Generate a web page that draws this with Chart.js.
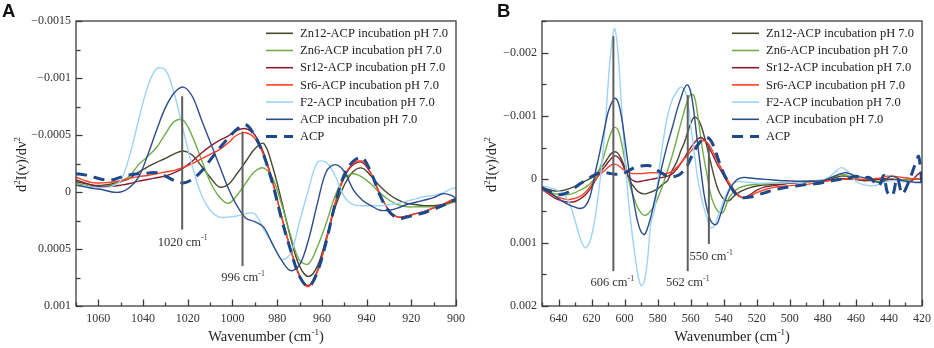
<!DOCTYPE html>
<html>
<head>
<meta charset="utf-8">
<title>Second derivative FTIR spectra</title>
<script src="https://cdn.jsdelivr.net/npm/chart.js"></script>
<style>
    body { margin: 0; background: #fff; }
    .panel { position: absolute; top: 0; }
    #panelA { left: 0; }
    #panelB { left: 466px; }
</style>
</head>
<body>
<canvas id="panelA" class="panel" width="467" height="348"></canvas>
<canvas id="panelB" class="panel" width="468" height="348"></canvas>

<script>
// values: d2I/dv2 in units of 1e-4 (negative is plotted up)
var seriesNames = ['Zn12-ACP incubation pH 7.0', 'Zn6-ACP incubation pH 7.0', 'Sr12-ACP incubation pH 7.0',
    'Sr6-ACP incubation pH 7.0', 'F2-ACP incubation pH 7.0', 'ACP incubation pH 7.0', 'ACP'];
var seriesColors = ['#48472e', '#6fad49', '#8b1d31', '#ff4124', '#9dd3f6', '#2c4c8a', '#1d4889'];

// ---- panel A, 1070-900 cm-1 ----
var wnA = [1070, 1066, 1062, 1058, 1054, 1050, 1046, 1042, 1038, 1034, 1030, 1026, 1022, 1018, 1014, 1010,
    1006, 1002, 998, 994, 990, 986, 982, 978, 974, 970, 966, 962, 958, 954, 950, 946, 942, 938, 934, 930,
    926, 922, 918, 914, 910, 906, 902, 900];
var zn12A = [-0.9, -0.75, -0.6, -0.6, -0.7, -0.9, -1.2, -1.75, -2.2, -2.6, -2.95, -3.35, -3.6, -3.25, -2.3, -1.3,
    -0.45, -0.65, -1.6, -2.7, -3.8, -4.25, -2.2, 0.8, 4.0, 6.5, 7.4, 6.5, 4.0, 1.3, -0.6, -1.8, -2.1, -1.4, -0.5, 0.2,
    0.7, 1.0, 1.1, 1.2, 1.2, 1.1, 0.9, 0.85];
var zn6A = [-0.75, -0.6, -0.45, -0.5, -0.6, -0.9, -1.4, -2.4, -3.1, -3.9, -5.1, -6.2, -6.3, -4.9, -2.9, -0.9,
    0.4, 1.0, 0.3, -0.8, -1.8, -2.1, -1.2, 1.1, 3.8, 6.0, 6.3, 4.8, 2.7, 0.3, -1.2, -1.6, -1.3, -0.7, 0.1, 0.7,
    1.1, 1.3, 1.3, 1.3, 1.3, 1.2, 0.95, 0.85];
var sr12A = [-1.05, -0.8, -0.55, -0.5, -0.5, -0.6, -0.75, -0.95, -1.1, -1.25, -1.4, -1.7, -2.1, -2.7, -3.4, -4.0,
    -4.5, -4.9, -5.4, -5.55, -5.0, -3.4, -0.9, 2.2, 5.0, 7.3, 8.2, 6.9, 4.2, 1.0, -1.3, -2.4, -2.6, -1.6, 0.2, 1.6,
    2.2, 2.1, 1.9, 1.7, 1.4, 1.1, 0.8, 0.6];
var sr6A = [-1.3, -1.0, -0.8, -0.8, -0.85, -1.0, -1.2, -1.35, -1.45, -1.6, -1.75, -1.9, -2.15, -2.5, -2.9, -3.3,
    -3.7, -4.3, -5.0, -5.2, -4.7, -3.2, -0.8, 2.2, 5.0, 7.4, 8.3, 7.0, 4.2, 0.9, -1.4, -2.5, -2.7, -1.6, 0.2, 1.6,
    2.2, 2.1, 1.9, 1.7, 1.4, 1.1, 0.7, 0.6];
var f2A = [-0.6, -0.5, -0.4, -0.4, -0.5, -1.0, -3.2, -6.3, -9.2, -10.8, -10.7, -8.6, -5.4, -2.3, 0.2, 1.6,
    2.2, 2.2, 2.1, 1.9, 1.9, 3.3, 4.6, 5.9, 5.4, 2.6, -0.2, -2.6, -2.6, -1.4, 0.4, 1.1, 1.2, 1.2, 1.2, 1.1,
    1.0, 0.8, 0.6, 0.4, 0.3, 0.1, -0.3, -0.35];
var acpIncA = [-0.6, -0.45, -0.3, -0.2, 0.0, 0.0, -0.4, -1.3, -3.2, -5.4, -7.4, -8.7, -9.2, -8.4, -6.4, -4.4,
    -2.4, -0.4, 1.2, 2.3, 2.6, 3.1, 4.6, 6.0, 6.9, 6.4, 4.2, 1.0, -1.8, -2.4, -1.8, -0.2, 0.7, 1.2, 1.6, 1.6,
    1.4, 1.1, 0.9, 0.7, 0.5, 0.15, 0.3, 0.6];
var acpA = [-1.6, -1.5, -1.3, -1.1, -1.05, -1.3, -1.5, -1.6, -1.65, -1.7, -1.4, -1.0, -0.8, -1.1, -1.8, -2.8,
    -3.8, -4.7, -5.5, -5.9, -4.9, -3.2, -0.7, 2.4, 5.1, 7.4, 8.3, 7.0, 4.3, 1.0, -1.5, -2.7, -3.0, -1.7, 0.3, 1.7,
    2.3, 2.2, 2.0, 1.8, 1.5, 1.2, 0.8, 0.7];
// vertical marks: position, top and bottom value, label centre
var marksA = [
    { x: 1022.5, top: -8.4, bottom: 3.3, labelX: 1022.3, labelY: 4.3, text: '1020 cm' },
    { x: 995.5, top: -5.3, bottom: 6.5, labelX: 995.3, labelY: 7.4, text: '996 cm' }
];

// ---- panel B, 650-420 cm-1 ----
var wnB = [650, 646, 642, 638, 634, 630, 627, 624, 621, 618, 615, 612, 610, 608, 606, 604, 602, 600, 598, 596,
    594, 592, 590, 588, 586, 584, 582, 580, 577, 574, 571, 568, 566, 564, 562, 560, 558, 556, 554, 552,
    550, 548, 546, 544, 542, 540, 537, 534, 531, 528, 524, 520, 515, 510, 505, 500, 495, 490, 485, 480,
    476, 472, 469, 466, 463, 460, 456, 452, 449, 446, 443, 441, 438, 435, 432, 429, 426, 424, 422, 420];
var zn12B = [1.3, 1.6, 1.85, 1.8, 1.5, 1.1, 0.7, 0.3, -0.1, -0.7, -1.5, -2.6, -3.4, -4.1, -4.35, -4.1, -3.2, -2.0, -0.5, 0.6,
    1.3, 1.9, 2.2, 2.3, 2.2, 2.0, 1.8, 1.5, 0.8, 0.2, -1.5, -3.0, -4.5, -5.7, -7.3, -8.8, -9.8, -9.6, -8.7, -7.0,
    -5.0, -2.8, -0.6, 1.2, 2.4, 3.1, 3.4, 2.7, 2.1, 1.7, 1.3, 1.05, 0.9, 0.8, 0.7, 0.6, 0.5, 0.4, 0.3, 0.2,
    0.0, -0.3, -0.5, -0.5, -0.3, 0.0, 0.2, 0.2, 0.1, 0.0, -0.1, -0.1, 0.0, 0.1, 0.1, 0.0, 0.0, 0.0, 0.0, 0.0];
var zn6B = [1.6, 2.0, 2.3, 2.4, 2.4, 2.1, 1.7, 1.3, 0.7, -0.2, -1.8, -4.2, -6.0, -7.5, -8.2, -7.8, -5.9, -3.2, -0.5, 1.6,
    3.2, 4.5, 5.3, 5.7, 5.5, 4.9, 4.2, 3.0, 1.0, -1.4, -3.9, -6.8, -8.8, -10.7, -12.4, -13.4, -13.2, -10.6, -6.8, -3.4,
    -0.5, 2.3, 3.9, 4.9, 5.3, 5.1, 3.0, 2.0, 1.4, 1.1, 0.9, 0.8, 0.7, 0.6, 0.5, 0.5, 0.4, 0.3, 0.2, 0.1,
    -0.2, -0.6, -0.8, -0.7, -0.4, -0.1, 0.0, 0.1, 0.2, 0.3, 0.2, 0.0, -0.1, 0.0, 0.1, 0.1, 0.0, -0.1, -0.1, -0.1];
var sr12B = [1.6, 2.3, 3.0, 3.4, 3.6, 3.5, 3.1, 2.5, 1.6, 0.3, -1.0, -2.0, -2.7, -3.3, -3.7, -3.5, -2.8, -1.6, -0.6, 0.0,
    0.3, 0.4, 0.3, 0.2, 0.1, 0.0, -0.1, -0.2, -0.3, -0.5, -0.9, -1.8, -2.5, -3.3, -4.2, -5.0, -5.7, -6.3, -6.6, -6.3,
    -5.6, -4.6, -3.5, -2.4, -1.5, -0.6, 0.8, 1.9, 2.6, 2.9, 2.4, 1.7, 1.2, 1.0, 0.8, 0.6, 0.5, 0.4, 0.3, 0.2,
    0.1, 0.0, -0.1, -0.1, 0.0, 0.0, 0.1, 0.1, 0.0, 0.0, 0.1, 0.1, 0.0, 0.1, 0.2, 0.4, 0.2, -0.4, -0.9, -1.2];
var sr6B = [1.6, 2.2, 2.65, 3.0, 3.2, 3.0, 2.7, 2.1, 1.2, 0.1, -0.8, -1.4, -1.9, -2.3, -2.4, -2.2, -1.8, -1.4, -1.1, -0.95,
    -0.9, -0.9, -0.9, -0.95, -1.0, -1.05, -1.05, -1.0, -0.95, -0.95, -1.3, -2.0, -2.6, -3.2, -3.8, -4.4, -5.0, -5.5, -6.0, -6.1,
    -5.8, -5.1, -4.1, -3.0, -2.0, -1.0, 0.4, 1.6, 2.5, 2.9, 2.6, 2.1, 1.6, 1.3, 1.1, 1.0, 0.9, 0.8, 0.6, 0.4,
    0.2, 0.0, 0.0, 0.0, 0.0, 0.0, 0.0, 0.0, -0.1, -0.2, -0.4, -0.5, -0.5, -0.4, -0.3, -0.2, -0.1, -0.1, 0.0, 0.0];
var f2B = [1.0, 1.3, 1.6, 2.1, 3.4, 6.5, 9.2, 10.8, 9.8, 6.2, 0.5, -7.5, -15.0, -21.0, -23.8, -20.0, -12.0, -4.5, 2.5, 7.3,
    11.5, 15.0, 16.8, 16.0, 12.3, 6.8, 5.0, 0.5, -5.5, -10.0, -12.7, -14.0, -14.6, -14.2, -12.8, -8.5, -4.5, -0.5, 2.3, 4.5,
    6.2, 7.6, 7.5, 6.2, 4.8, 3.3, 1.6, 0.6, 0.3, 0.4, 0.5, 0.6, 0.6, 0.6, 0.6, 0.5, 0.5, 0.4, 0.3, 0.1,
    -0.4, -1.3, -1.85, -1.5, -0.6, 0.3, 0.8, 1.0, 1.0, 0.8, 0.5, 0.3, 0.2, 0.2, 0.3, 0.4, 0.4, 0.4, 0.4, 0.4];
var acpIncB = [1.3, 1.9, 2.7, 3.4, 4.0, 4.4, 4.6, 4.3, 2.8, -0.8, -4.3, -8.2, -10.6, -12.0, -12.8, -12.2, -10.0, -6.5, -2.6, 1.0,
    4.2, 6.8, 8.3, 8.7, 7.6, 5.8, 3.5, 1.2, -2.5, -5.6, -8.3, -11.2, -12.8, -14.3, -14.9, -13.8, -10.5, -6.0, -1.8, 2.2,
    4.8, 6.5, 7.1, 7.0, 5.6, 4.0, 1.9, 0.6, -0.1, -0.3, -0.2, -0.1, 0.0, 0.1, 0.2, 0.25, 0.3, 0.3, 0.3, 0.2,
    -0.2, -0.6, -0.9, -1.05, -0.8, -0.5, -0.3, 0.0, 0.3, 0.5, 0.3, -0.2, -0.5, -0.2, 0.2, 0.3, 0.4, 0.5, 0.5, 0.5];
var acpB = [1.3, 1.9, 2.3, 2.4, 2.0, 1.3, 0.7, 0.2, -0.3, -0.7, -1.0, -1.06, -1.0, -0.9, -0.8, -0.8, -0.8, -1.0, -1.3, -1.6,
    -1.85, -2.0, -2.1, -2.15, -2.2, -2.1, -1.8, -1.4, -0.9, -0.5, -0.4, -0.6, -0.9, -1.5, -2.2, -3.3, -4.3, -5.3, -6.0, -6.5,
    -6.6, -6.2, -5.2, -3.7, -2.2, -0.9, 0.6, 1.9, 2.7, 2.9, 2.8, 2.5, 2.1, 1.7, 1.4, 1.2, 1.0, 0.8, 0.7, 0.5,
    0.3, 0.1, 0.0, 0.1, -0.3, -0.5, -0.2, -0.3, 0.4, 1.0, -0.6, 2.0, 2.6, -0.2, 2.3, 1.0, -1.0, -2.5, -3.6, 0.8];
var marksB = [
    { x: 606.8, top: -22.6, bottom: 14.5, labelX: 607.5, labelY: 16.2, text: '606 cm' },
    { x: 561.8, top: -13.3, bottom: 14.5, labelX: 561.8, labelY: 16.2, text: '562 cm' },
    { x: 549.0, top: -5.3, bottom: 10.2, labelX: 547.6, labelY: 12.0, text: '550 cm' }
];

Chart.defaults.font.family = '"Liberation Serif", "Times New Roman", serif';
Chart.defaults.color = '#333';

var SERIF = '"Liberation Serif", "Times New Roman", serif';

// text with raised small parts, parts = [[text, isSuperscript], ...]
function drawParts(ctx, parts, x, y, size, align) {
    var w = 0;
    parts.forEach(function (p) {
        ctx.font = (p[1] ? size * 0.62 : size) + 'px ' + SERIF;
        w += ctx.measureText(p[0]).width;
    });
    var cx = align === 'center' ? x - w / 2 : x;
    ctx.textAlign = 'left';
    ctx.textBaseline = 'alphabetic';
    parts.forEach(function (p) {
        ctx.font = (p[1] ? size * 0.62 : size) + 'px ' + SERIF;
        ctx.fillText(p[0], cx, p[1] ? y - size * 0.42 : y);
        cx += ctx.measureText(p[0]).width;
    });
}

var decorPlugin = {
    id: 'decor',
    afterDatasetsDraw: function (chart, args, opts) {
        var ctx = chart.ctx, x = chart.scales.x, y = chart.scales.y;
        ctx.save();
        // vertical marker lines and their labels
        ctx.strokeStyle = '#5f5f5f';
        ctx.lineWidth = 2;
        ctx.fillStyle = '#333';
        opts.marks.forEach(function (m) {
            var px = x.getPixelForValue(m.x);
            ctx.beginPath();
            ctx.moveTo(px, y.getPixelForValue(m.top));
            ctx.lineTo(px, y.getPixelForValue(m.bottom));
            ctx.stroke();
            drawParts(ctx, [[m.text, false], ['-1', true]], x.getPixelForValue(m.labelX),
                y.getPixelForValue(m.labelY) + 4.5, 12.5, 'center');
        });
        ctx.restore();
    },
    afterDraw: function (chart, args, opts) {
        var ctx = chart.ctx, a = chart.chartArea, x = chart.scales.x, y = chart.scales.y;
        ctx.save();
        ctx.strokeStyle = '#3c3c3c';
        ctx.lineWidth = 1.3;
        // inward ticks
        x.ticks.forEach(function (t) {
            var px = Math.round(x.getPixelForValue(t.value)) + 0.5;
            var len = t.value % opts.xMajor === 0 ? 6.5 : 3.5;
            ctx.beginPath();
            ctx.moveTo(px, a.bottom);
            ctx.lineTo(px, a.bottom - len);
            ctx.stroke();
        });
        y.ticks.forEach(function (t) {
            var py = Math.round(y.getPixelForValue(t.value)) + 0.5;
            var len = t.value % opts.yMajor === 0 ? 6.5 : 4.5;
            ctx.beginPath();
            ctx.moveTo(a.left, py);
            ctx.lineTo(a.left + len, py);
            ctx.stroke();
        });
        ctx.strokeRect(a.left, a.top, a.right - a.left, a.bottom - a.top);

        // legend drawn inside the plot
        var lx = a.right - 190, ly = 33.3;
        chart.data.datasets.forEach(function (ds, i) {
            var yy = ly + i * 17.2;
            ctx.strokeStyle = ds.borderColor;
            ctx.lineWidth = ds.borderDash.length ? 3 : 1.6;
            ctx.setLineDash(ds.borderDash);
            ctx.beginPath();
            ctx.moveTo(lx, yy);
            ctx.lineTo(lx + 27, yy);
            ctx.stroke();
            ctx.setLineDash([]);
            ctx.fillStyle = '#222';
            ctx.font = '12.5px ' + SERIF;
            ctx.textAlign = 'left';
            ctx.textBaseline = 'middle';
            ctx.fillText(ds.label, lx + 34, yy + 0.5);
        });

        // axis titles
        ctx.fillStyle = '#222';
        drawParts(ctx, [['Wavenumber (cm', false], ['-1', true], [')', false]], (a.left + a.right) / 2, 341, 14.5, 'center');
        ctx.save();
        ctx.translate(opts.yTitleX, (a.top + a.bottom) / 2 + 1);
        ctx.rotate(-Math.PI / 2);
        drawParts(ctx, [['d', false], ['2', true], ['I(\u03bd)/d\u03bd', false], ['2', true]], 0, 5, 14.5, 'center');
        ctx.restore();

        // panel letter
        ctx.fillStyle = '#111';
        ctx.font = 'bold 18.5px "Liberation Sans", Arial, sans-serif';
        ctx.textAlign = 'left';
        ctx.textBaseline = 'alphabetic';
        ctx.fillText(opts.letter, opts.letterX, 16.7);
        ctx.restore();
    }
};

function yLabel(v) {
    if (v === 0) return '0';
    return (v < 0 ? '\u2212' : '') + String(Math.abs(v) / 10000);
}

function makePanel(id, wn, series, setup) {
    var datasets = series.map(function (vals, i) {
        var dashed = i === 6;
        return {
            label: seriesNames[i],
            data: wn.map(function (w, k) { return { x: w, y: vals[k] }; }),
            borderColor: seriesColors[i],
            borderWidth: dashed ? 3 : 1.4,
            borderDash: dashed ? [11, 7] : [],
            pointRadius: 0,
            tension: 0.35,
            fill: false,
            order: 6 - i
        };
    });
    return new Chart(document.getElementById(id), {
        type: 'line',
        data: { datasets: datasets },
        plugins: [decorPlugin],
        options: {
            responsive: false,
            animation: false,
            events: [],
            layout: { padding: { top: 21, right: setup.right, left: 0, bottom: 0 } },
            plugins: {
                legend: { display: false },
                tooltip: { enabled: false },
                decor: setup.decor
            },
            scales: {
                x: {
                    type: 'linear',
                    reverse: true,
                    min: setup.xMin,
                    max: setup.xMax,
                    grid: { display: false, drawTicks: false },
                    border: { display: false },
                    ticks: {
                        stepSize: 10,
                        autoSkip: false,
                        maxRotation: 0,
                        padding: 6,
                        font: { size: 12 },
                        callback: function (v) { return v % 20 === 0 ? String(v) : ''; }
                    },
                    afterFit: function (s) {
                        s.height = 42;
                        s.paddingLeft = 0;
                        s.paddingRight = 0;
                    }
                },
                y: {
                    reverse: true,
                    min: setup.yMin,
                    max: setup.yMax,
                    grid: { display: false, drawTicks: false },
                    border: { display: false },
                    ticks: {
                        stepSize: setup.yStep,
                        autoSkip: false,
                        padding: 5,
                        font: { size: 12 },
                        callback: function (v) { return v % setup.yMajor === 0 ? yLabel(v) : ''; }
                    },
                    afterFit: function (s) { s.width = 76; }
                }
            }
        }
    });
}

makePanel('panelA', wnA, [zn12A, zn6A, sr12A, sr6A, f2A, acpIncA, acpA], {
    xMin: 900, xMax: 1070, yMin: -15, yMax: 10, yStep: 2.5, yMajor: 5, right: 11,
    decor: { marks: marksA, xMajor: 20, yMajor: 5, letter: 'A', letterX: 2, yTitleX: 21 }
});
makePanel('panelB', wnB, [zn12B, zn6B, sr12B, sr6B, f2B, acpIncB, acpB], {
    xMin: 420, xMax: 650, yMin: -25, yMax: 20, yStep: 5, yMajor: 10, right: 12,
    decor: { marks: marksB, xMajor: 20, yMajor: 10, letter: 'B', letterX: 31, yTitleX: 25 }
});
</script>
</body>
</html>
